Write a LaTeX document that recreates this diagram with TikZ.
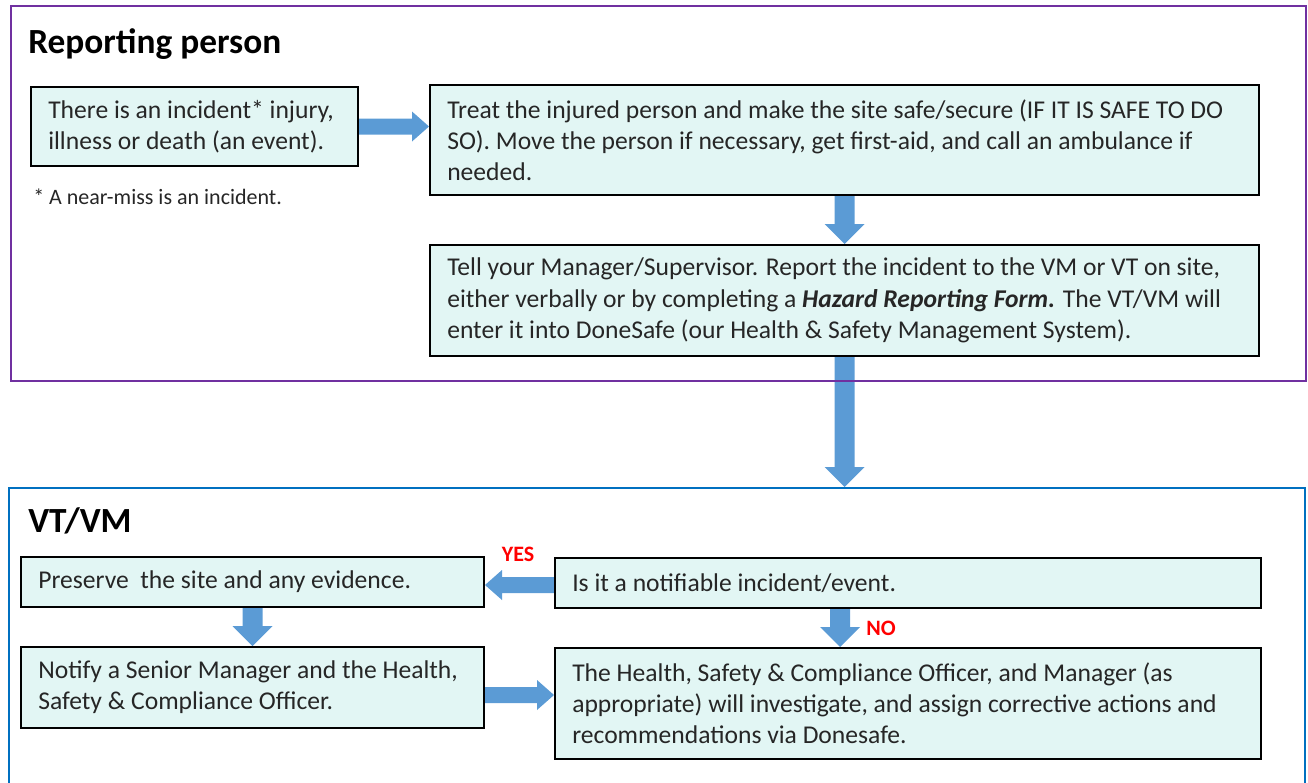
\documentclass[tikz,border=0pt]{standalone}
\usepackage{fontspec}
\setmainfont{Carlito}
\usetikzlibrary{calc}
\definecolor{boxfill}{HTML}{E2F6F4}
\definecolor{arrblue}{HTML}{5B9BD5}
\definecolor{purp}{HTML}{7030A0}
\definecolor{frblue}{HTML}{0070C0}
\definecolor{txt}{HTML}{262626}
\pgfdeclarelayer{bg}
\pgfsetlayers{bg,main}
\newcommand\blockR[2]{\fill[arr] ($#1+(0,-8)$) -- ($#2+(-17,-8)$) -- ($#2+(-17,-15)$) -- #2 -- ($#2+(-17,15)$) -- ($#2+(-17,8)$) -- ($#1+(0,8)$) -- cycle;}
\newcommand\blockL[2]{\fill[arr] ($#1+(0,-8)$) -- ($#2+(17,-8)$) -- ($#2+(17,-15)$) -- #2 -- ($#2+(17,15)$) -- ($#2+(17,8)$) -- ($#1+(0,8)$) -- cycle;}
\newcommand\blockD[2]{\fill[arr] ($#1+(-10,0)$) -- ($#2+(-10,-20)$) -- ($#2+(-20,-20)$) -- #2 -- ($#2+(20,-20)$) -- ($#2+(10,-20)$) -- ($#1+(10,0)$) -- cycle;}
\begin{document}
\begin{tikzpicture}[x=0.75pt,y=-0.75pt,
  box/.style={draw=black, line width=1.5pt, fill=boxfill, anchor=north west, inner sep=0pt},
  btext/.style={anchor=west, align=left, inner sep=0pt, text=txt, font=\fontsize{19.2}{23.4}\selectfont},
  frame/.style={line width=1.5pt, anchor=north west, inner sep=0pt},
  arr/.style={fill=arrblue},
  ttl/.style={anchor=base west, inner sep=0pt, font=\fontsize{26.5}{31}\selectfont\bfseries},
  lbl/.style={inner sep=0pt, text=red, font=\fontsize{16.5}{19}\selectfont\bfseries}]
\useasboundingbox (0,0) rectangle (1308,782);
% frames
\node[frame, draw=purp, minimum width=971.25pt, minimum height=281.25pt] (fr1) at (10,5) {};
\node[frame, draw=frblue, minimum width=972pt, minimum height=240pt] (fr2) at (8,487) {};
\node[ttl] (t1) at (28,53) {Reporting person};
\node[ttl] (t2) at (28,532) {VT/VM};
% boxes
\node[box, minimum width=245.25pt, minimum height=59.25pt] (b1) at (30,86) {};
\node[box, minimum width=621.75pt, minimum height=82.5pt] (b2) at (429,84) {};
\node[box, minimum width=621.75pt, minimum height=83.25pt] (b3) at (429,244) {};
\node[box, minimum width=347.25pt, minimum height=37.5pt] (b4) at (20,556) {};
\node[box, minimum width=529.5pt, minimum height=37.5pt] (b5) at (554,557) {};
\node[box, minimum width=347.25pt, minimum height=60.75pt] (b6) at (20,646) {};
\node[box, minimum width=529.5pt, minimum height=83.25pt] (b7) at (554,647) {};
% texts
\node[btext] (b1t) at ($(b1.west)+(18,0)$) {There is an incident* injury,\\illness or death (an event).};
\node[btext] (b2t) at ($(b2.west)+(18,0)$) {Treat the injured person and make the site safe/secure (IF IT IS SAFE TO DO\\SO). Move the person if necessary, get first-aid, and call an ambulance if\\needed.};
\node[btext] (b3t) at ($(b3.west)+(18,0)$) {Tell your Manager/Supervisor. Report the incident to the VM or VT on site,\\either verbally or by completing a \textbf{\textit{Hazard Reporting Form.}} The VT/VM will\\enter it into DoneSafe (our Health \& Safety Management System).};
\node[btext] (b4t) at ($(b4.west)+(18,0)$) {Preserve~ the site and any evidence.};
\node[btext] (b5t) at ($(b5.west)+(18,0)$) {Is it a notifiable incident/event.};
\node[btext] (b6t) at ($(b6.west)+(18,0)$) {Notify a Senior Manager and the Health,\\Safety \& Compliance Officer.};
\node[btext] (b7t) at ($(b7.west)+(18,0)$) {The Health, Safety \& Compliance Officer, and Manager (as\\appropriate) will investigate, and assign corrective actions and\\recommendations via Donesafe.};
\node[anchor=base west, inner sep=0pt, text=txt, font=\fontsize{16.5}{19}\selectfont] (fn) at (33,204) {* A near-miss is an incident.};
\node[lbl] (yes) at (518,554) {YES};
\node[lbl] (no) at (881,628) {NO};
% connectors
\coordinate (a1t) at (b2.west |- b1.east);
\coordinate (a3t) at (b3.south |- fr2.north);
\coordinate (ys) at ($(b5.west)+(0,2)$);
\coordinate (yt) at (b4.east |- ys);
\coordinate (ns) at ($(b5.south west)+(286,0)$);
\coordinate (nt) at (ns |- b7.north);
\coordinate (ms) at ($(b6.east)+(0,7.5)$);
\coordinate (mt) at (b7.west |- ms);
\begin{pgfonlayer}{bg}
\blockR{(b1.east)}{(a1t)}
\blockD{(b2.south)}{(b3.north)}
\blockD{(b3.south)}{(a3t)}
\blockL{(ys)}{(yt)}
\blockD{(b4.south)}{(b6.north)}
\blockD{(ns)}{(nt)}
\blockR{(ms)}{(mt)}
\end{pgfonlayer}
\end{tikzpicture}
\end{document}
